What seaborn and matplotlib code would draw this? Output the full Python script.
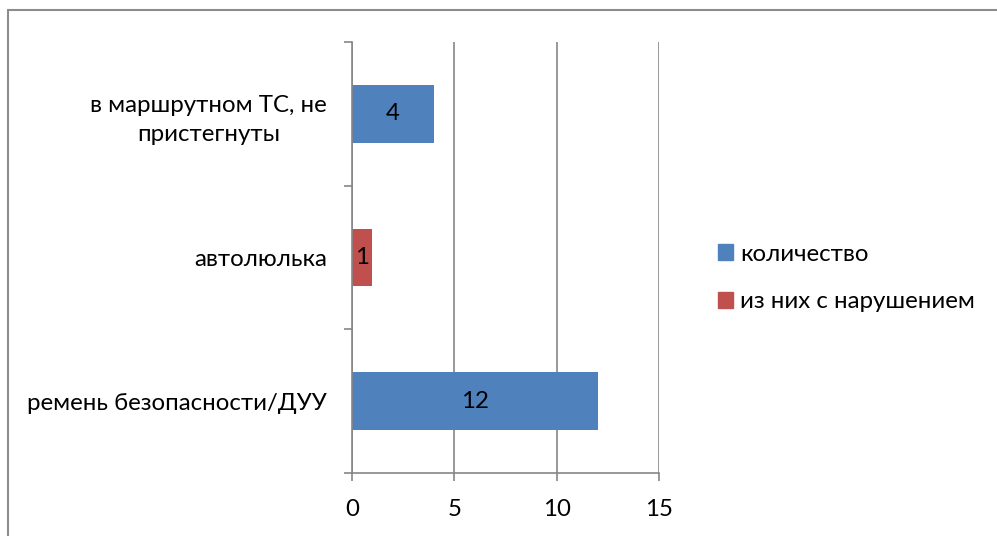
import pandas as pd
import matplotlib.pyplot as plt
import seaborn as sns
from matplotlib.lines import Line2D

# данные диаграммы
kategorii = ['в маршрутном ТС, не\nпристегнуты', 'автолюлька', 'ремень безопасности/ДУУ']
znacheniya = [4, 1, 12]
serii = ['количество', 'из них с нарушением', 'количество']
poryadok_serii = ['количество', 'из них с нарушением']
cveta = ['#4F81BD', '#C0504D']
x_ticks = [0, 5, 10, 15]

df = pd.DataFrame({'kategoriya': kategorii, 'znachenie': znacheniya, 'seriya': serii})

sns.set_style('white')
plt.rcParams['font.family'] = ['Lato', 'DejaVu Sans']
fs = 17.3

fig = plt.figure(figsize=(9.97, 5.36), dpi=100)
ax = fig.add_axes([352 / 997, 1 - 473 / 536, 307 / 997, 431 / 536])

sns.barplot(data=df, y='kategoriya', x='znachenie', hue='seriya', hue_order=poryadok_serii,
            palette=cveta, saturation=1, dodge=False, width=0.4, orient='h', ax=ax,
            legend=False, linewidth=0)

for cont in ax.containers:
    ax.bar_label(cont, label_type='center', fontsize=fs, color='black')

ax.set_xlim(0, 15)
ax.set_xticks(x_ticks)
ax.set_ylim(2.5, -0.5)
ax.set_xlabel('')
ax.set_ylabel('')

seryi = '#868686'
ax.grid(axis='x', color=seryi, linewidth=1.2)
ax.grid(axis='y', visible=False)
ax.set_axisbelow(True)
for s in ['top', 'right']:
    ax.spines[s].set_visible(False)
for s in ['left', 'bottom']:
    ax.spines[s].set_color(seryi)
    ax.spines[s].set_linewidth(1.2)

ax.set_yticks([-0.5, 0.5, 1.5, 2.5], minor=True)
ax.tick_params(axis='y', which='major', left=True, length=0, pad=18, labelsize=fs, labelcolor='black')
ax.tick_params(axis='y', which='minor', left=True, length=6, color=seryi, width=1.2)
ax.tick_params(axis='x', bottom=True, length=6, color=seryi, width=1.2, labelsize=fs,
               labelcolor='black', pad=13)
for t in ax.get_yticklabels():
    t.set_multialignment('center')
    t.set_linespacing(1.5)

handles = [plt.Rectangle((0, 0), 1, 1, color=c) for c in cveta]
fig.legend(handles, poryadok_serii, loc='center left', bbox_to_anchor=(696 / 997, 1 - 278 / 536),
           frameon=False, fontsize=fs, handlelength=0.65, handleheight=0.65,
           handletextpad=0.3, labelspacing=1.1, labelcolor='black')

# рамка диаграммы
fig.add_artist(Line2D([8 / 997, 8 / 997], [0, 1 - 10 / 536], color='#8c8c8c', lw=1.5))
fig.add_artist(Line2D([8 / 997, 1], [1 - 10 / 536, 1 - 10 / 536], color='#8c8c8c', lw=1.5))

plt.savefig('out.png', dpi=100)
